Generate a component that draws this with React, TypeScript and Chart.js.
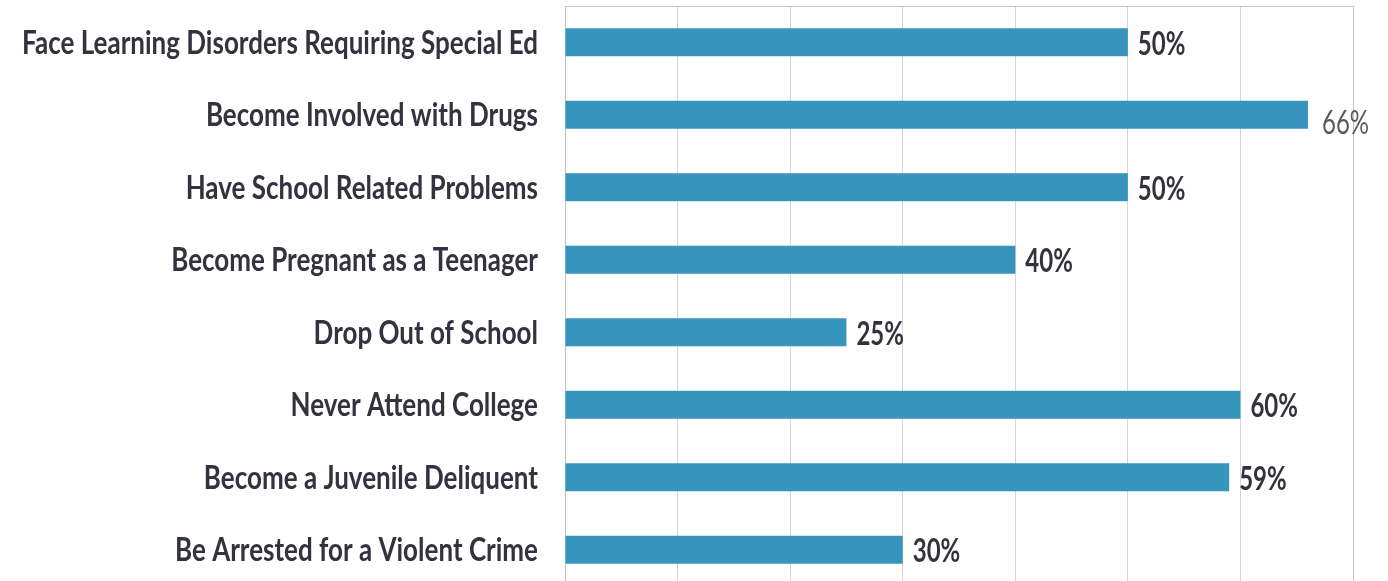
import React, { useEffect, useRef } from "react";
import { Chart, registerables } from "chart.js";

Chart.register(...registerables);

const categories = [
  "Face Learning Disorders Requiring Special Ed",
  "Become Involved with Drugs",
  "Have School Related Problems",
  "Become Pregnant as a Teenager",
  "Drop Out of School",
  "Never Attend College",
  "Become a Juvenile Deliquent",
  "Be Arrested for a Violent Crime",
];
const values = [50, 66, 50, 40, 25, 60, 59, 30];
const valueLabels = ["50%", "66%", "50%", "40%", "25%", "60%", "59%", "30%"];
const xMin = 0;
const xMax = 70;
const xStep = 10;
const mutedLabelIndex = 1;

const TEXT = "#33333f";
const FONT_FAMILY = "Lato, 'Liberation Sans Narrow', sans-serif";
const STRETCH = 1.24;

function drawStretched(
  ctx: CanvasRenderingContext2D,
  text: string,
  x: number,
  y: number,
  align: CanvasTextAlign,
  font: string,
  color: string,
  sy: number
) {
  ctx.save();
  ctx.font = font;
  ctx.fillStyle = color;
  ctx.textAlign = align;
  ctx.textBaseline = "middle";
  ctx.translate(x, y);
  ctx.scale(1, sy);
  ctx.fillText(text, 0, 0);
  ctx.restore();
}

const labelPlugin = {
  id: "labelPlugin",
  afterDraw(chart: any) {
    const ctx = chart.ctx as CanvasRenderingContext2D;
    const area = chart.chartArea;
    ctx.save();
    ctx.strokeStyle = "#c4c4c4";
    ctx.lineWidth = 1;
    ctx.beginPath();
    ctx.moveTo(area.left, Math.round(area.top) + 0.5);
    ctx.lineTo(area.right, Math.round(area.top) + 0.5);
    ctx.moveTo(Math.round(area.right) + 0.5, area.top);
    ctx.lineTo(Math.round(area.right) + 0.5, area.bottom);
    ctx.stroke();
    ctx.restore();

    const yScale = chart.scales.y;
    categories.forEach((c, i) => {
      const y = yScale.getPixelForValue(i);
      drawStretched(ctx, c, area.left - 27, y + 1, "right", `bold 26px ${FONT_FAMILY}`, TEXT, STRETCH);
    });
    const meta = chart.getDatasetMeta(0);
    meta.data.forEach((bar: any, i: number) => {
      const muted = i === mutedLabelIndex;
      drawStretched(
        ctx,
        valueLabels[i],
        bar.x + (muted ? 14 : 10),
        bar.y + (muted ? 9 : 2),
        "left",
        `${muted ? "" : "bold "}24px ${FONT_FAMILY}`,
        muted ? "#595959" : TEXT,
        1.35
      );
    });
  },
};

export default function App() {
  const ref = useRef<HTMLCanvasElement>(null);
  useEffect(() => {
    document.body.style.overflow = "hidden";
    const chart = new Chart(ref.current!, {
      type: "bar",
      data: {
        labels: categories,
        datasets: [
          {
            data: values,
            backgroundColor: "#3595bc",
            borderWidth: 0,
            barPercentage: 0.387,
            categoryPercentage: 1,
          },
        ],
      },
      options: {
        indexAxis: "y",
        animation: false,
        responsive: false,
        maintainAspectRatio: false,
        layout: { padding: { left: 565, top: 6, right: 35, bottom: 14 } },
        plugins: { legend: { display: false }, tooltip: { enabled: false } },
        scales: {
          x: {
            min: xMin,
            max: xMax,
            ticks: { display: false, stepSize: xStep },
            grid: { color: "#d6d6d6", drawTicks: false, lineWidth: 1 },
            border: { display: false },
          },
          y: {
            ticks: { display: false },
            grid: { display: false, drawTicks: false },
            border: { display: true, color: "#bfbfbf", width: 1 },
          },
        },
      },
      plugins: [labelPlugin],
    });
    (document as any).fonts?.load?.(`bold 26px Lato`).then(() => chart.update()).catch(() => {});
    return () => chart.destroy();
  }, []);
  return (
    <div style={{ position: "fixed", left: 0, top: 0, width: 1388, height: 600 }}>
      <canvas ref={ref} width={1388} height={600} style={{ width: 1388, height: 600 }} />
    </div>
  );
}
